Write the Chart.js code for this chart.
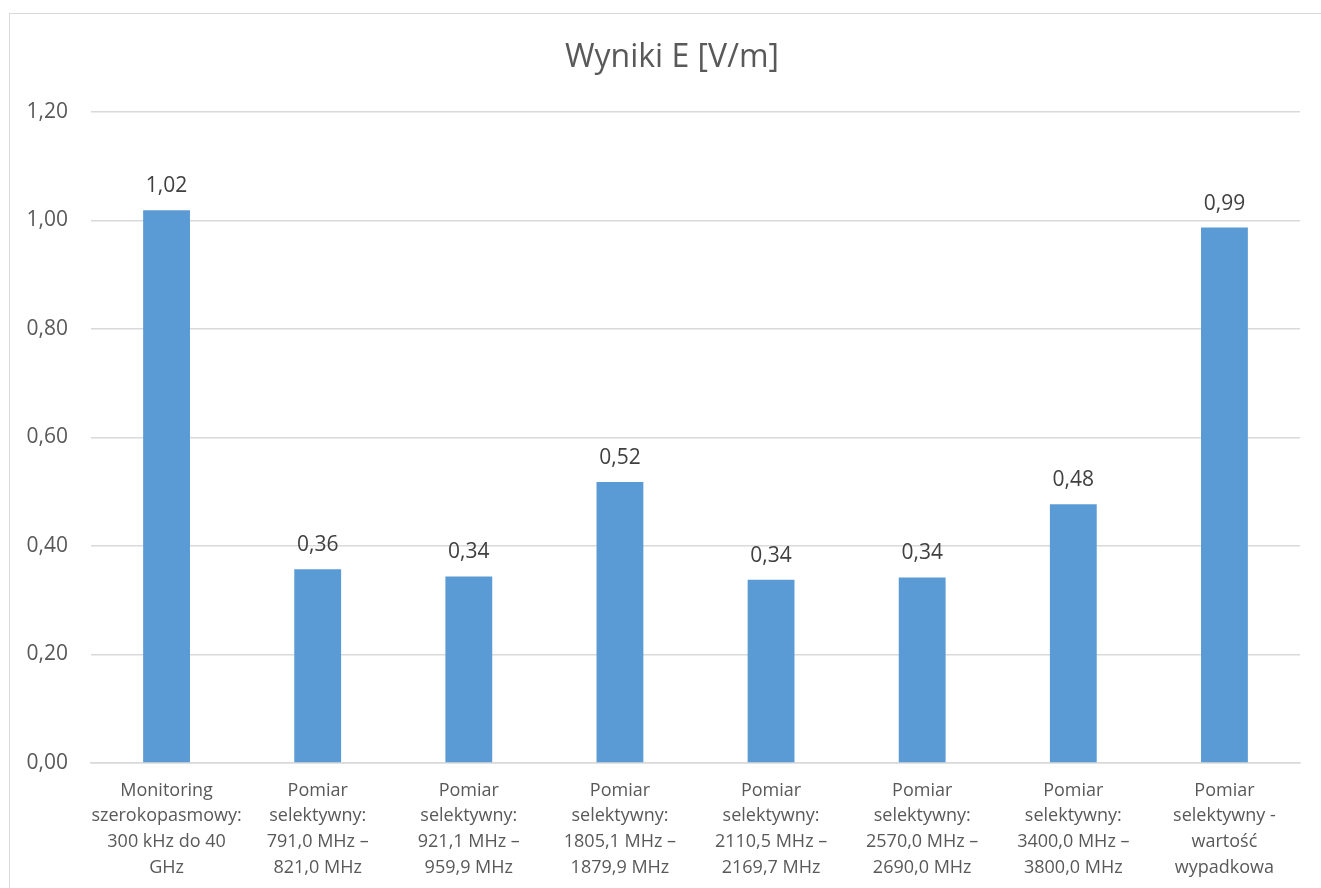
<!DOCTYPE html>
<html>
<head>
<meta charset="utf-8">
<script src="https://cdn.jsdelivr.net/npm/chart.js@4.4.1/dist/chart.umd.min.js"></script>
<style>
  html, body { margin: 0; padding: 0; background: #fff; overflow: hidden; }
  #frame { position: absolute; left: 9px; top: 13px; width: 1340px; height: 900px; border: 1px solid #D9D9D9; box-sizing: border-box; }
  #wrap { position: absolute; left: 0; top: 0; width: 1321px; height: 888px; }
</style>
</head>
<body>
<div id="frame"></div>
<div id="wrap"><canvas id="c" width="1321" height="888"></canvas></div>
<script>
const chartTitle = "Wyniki E [V/m]";
const categories = [
  ["Monitoring", "szerokopasmowy:", "300 kHz do 40", "GHz"],
  ["Pomiar", "selektywny:", "791,0 MHz –", "821,0 MHz"],
  ["Pomiar", "selektywny:", "921,1 MHz –", "959,9 MHz"],
  ["Pomiar", "selektywny:", "1805,1 MHz –", "1879,9 MHz"],
  ["Pomiar", "selektywny:", "2110,5 MHz –", "2169,7 MHz"],
  ["Pomiar", "selektywny:", "2570,0 MHz –", "2690,0 MHz"],
  ["Pomiar", "selektywny:", "3400,0 MHz –", "3800,0 MHz"],
  ["Pomiar", "selektywny -", "wartość", "wypadkowa"]
];
const values = [1.019, 0.357, 0.344, 0.518, 0.338, 0.342, 0.477, 0.987];
const yTicks = [0, 0.2, 0.4, 0.6, 0.8, 1.0, 1.2];

const FONT = "'Open Sans', 'DejaVu Sans', sans-serif";
const fmt = v => v.toFixed(2).replace('.', ',');

const labelPlugin = {
  id: 'valueLabels',
  afterDatasetsDraw(chart) {
    const ctx = chart.ctx;
    const meta = chart.getDatasetMeta(0);
    ctx.save();
    ctx.font = "21px " + FONT;
    ctx.fillStyle = "#404040";
    ctx.textAlign = "center";
    ctx.textBaseline = "middle";
    meta.data.forEach((bar, i) => {
      ctx.fillText(fmt(values[i]), bar.x, bar.y - 24);
    });
    ctx.restore();
  }
};
const titlePlugin = {
  id: 'customTitle',
  afterDraw(chart) {
    const ctx = chart.ctx;
    ctx.save();
    ctx.font = "32px " + FONT;
    ctx.fillStyle = "#595959";
    ctx.textAlign = "center";
    ctx.textBaseline = "middle";
    ctx.fillText(chartTitle, 672, 58);
    ctx.restore();
  }
};

new Chart(document.getElementById('c'), {
  type: 'bar',
  data: {
    labels: categories,
    datasets: [{
      data: values,
      backgroundColor: '#5B9BD5',
      borderWidth: 0,
      barPercentage: 0.62,
      categoryPercentage: 0.5
    }]
  },
  options: {
    responsive: false,
    animation: false,
    layout: { padding: { left: 0, right: 21, top: 112, bottom: 0 } },
    plugins: { legend: { display: false }, title: { display: false }, tooltip: { enabled: false } },
    scales: {
      x: {
        grid: { display: false },
        border: { display: true, color: '#D9D9D9', width: 1.5 },
        ticks: { color: '#595959', font: { family: FONT, size: 18, lineHeight: 1.42 }, padding: 7, maxRotation: 0, autoSkip: false },
        afterFit: s => { s.height = 125; }
      },
      y: {
        min: 0, max: 1.2,
        afterBuildTicks: s => { s.ticks = yTicks.map(v => ({ value: v })); },
        grid: { color: '#D9D9D9', lineWidth: 1.5, drawTicks: false },
        border: { display: false },
        ticks: { color: '#595959', font: { family: FONT, size: 21 }, padding: 23, callback: v => fmt(v) },
        afterFit: s => { s.width = 91; }
      }
    }
  },
  plugins: [labelPlugin, titlePlugin]
});
</script>
</body>
</html>
